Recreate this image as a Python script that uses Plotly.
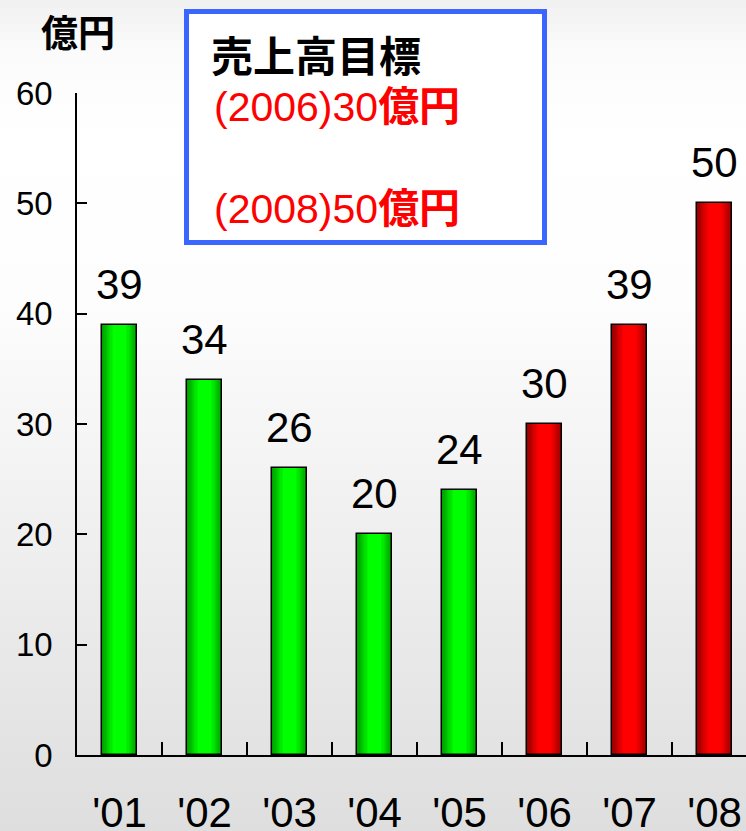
import plotly.graph_objects as go

# ---- data ----
years = ["'01", "'02", "'03", "'04", "'05", "'06", "'07", "'08"]
sales = [39, 34, 26, 20, 24, 30, 39, 50]
kind = ["actual"] * 5 + ["target"] * 3
y_ticks = [0, 10, 20, 30, 40, 50, 60]
unit_label = "億円"
target_title = "売上高目標"
target_lines = ["(2006)30<b>億円</b>", "(2008)50<b>億円</b>"]

# ---- styling ----
W, H = 746, 831
ML, MR, MT, MB = 77, 0, 93, 76
PW, PH = W - ML - MR, H - MT - MB
BAR_W = 0.41
edge = {"actual": (0, 160, 0), "target": (155, 0, 0)}
bright = {"actual": (0, 255, 0), "target": (255, 0, 0)}
LAT = "Liberation Sans, Arial, sans-serif"
CJK = "Noto Sans CJK JP, sans-serif"


def mix(a, b, t):
    return "rgb(%d,%d,%d)" % tuple(round(a[i] + (b[i] - a[i]) * t) for i in range(3))


def px_x(px):
    return (px - ML) / PW


def px_y(py):
    return (H - MB - py) / PH


fig = go.Figure()

N = 10
for k in range(N):
    t = k / (N - 1)
    f = 1 - t * 0.62
    fig.add_bar(
        x=years, y=sales, width=BAR_W * f,
        marker=dict(color=[mix(edge[c], bright[c], t) for c in kind], line=dict(width=0)),
        hoverinfo="skip", showlegend=False,
    )
fig.add_bar(
    x=years, y=sales, width=BAR_W,
    marker=dict(color="rgba(0,0,0,0)", line=dict(color="black", width=1.5)),
    showlegend=False,
)

for x, v in zip(years, sales):
    fig.add_annotation(x=x, y=v, text=str(v), yanchor="bottom", yshift=15,
                       showarrow=False, font=dict(family=LAT, size=42, color="black"))

# background gradient strips
stops = [(0, 240), (50, 251), (140, 255), (300, 253), (831, 222)]


def gray(py):
    for (p0, g0), (p1, g1) in zip(stops[:-1], stops[1:]):
        if p0 <= py <= p1:
            return g0 + (g1 - g0) * (py - p0) / (p1 - p0)
    return stops[-1][1]


shapes = []
step = 8
for py in range(0, H, step):
    g = round(gray(py + step / 2))
    shapes.append(dict(type="rect", xref="paper", yref="paper", layer="below",
                       x0=px_x(-5), x1=px_x(W + 5), y0=px_y(py + step + 0.5), y1=px_y(py),
                       fillcolor="rgb(%d,%d,%d)" % (g, g, g), line=dict(width=0)))
# target box
shapes.append(dict(type="rect", xref="paper", yref="paper", layer="above",
                   x0=px_x(186.5), x1=px_x(544.5), y0=px_y(242.5), y1=px_y(11.5),
                   fillcolor="white", line=dict(color="#3a66ff", width=5)))

fig.add_annotation(xref="paper", yref="paper", x=px_x(39), y=px_y(31), xanchor="left", yanchor="middle",
                   text="<b>%s</b>" % unit_label, showarrow=False,
                   font=dict(family=CJK, size=37, color="black"))
fig.add_annotation(xref="paper", yref="paper", x=px_x(209), y=px_y(53), xanchor="left", yanchor="middle",
                   text="<b>%s</b>" % target_title, showarrow=False,
                   font=dict(family=CJK, size=42, color="black"))
for line, cy in zip(target_lines, [107, 209]):
    fig.add_annotation(xref="paper", yref="paper", x=px_x(212), y=px_y(cy), xanchor="left", yanchor="middle",
                       text=line, showarrow=False,
                       font=dict(family="Liberation Sans, Noto Sans CJK JP, sans-serif", size=41, color="#ff0000"))

fig.update_layout(
    width=W, height=H, margin=dict(l=ML, r=MR, t=MT, b=MB, autoexpand=False),
    barmode="overlay", bargap=0,
    paper_bgcolor="white", plot_bgcolor="rgba(0,0,0,0)",
    shapes=shapes, showlegend=False,
    xaxis=dict(type="category", range=[-0.5, 7.37], showline=True, linecolor="black", linewidth=1.5,
               ticks="inside", tickson="boundaries", ticklen=13, tickcolor="black", tickwidth=1.5,
               tickfont=dict(family=LAT, size=42, color="black"), showgrid=False, automargin=False,
               ticklabelstandoff=20, fixedrange=True),
    yaxis=dict(range=[0, 60], tickvals=y_ticks, showline=True, linecolor="black", linewidth=1.5,
               ticks="inside", ticklen=10, tickcolor="black", tickwidth=1.5,
               tickfont=dict(family=LAT, size=33, color="black"), showgrid=False, zeroline=False,
               automargin=False, ticklabelstandoff=16, fixedrange=True),
)

fig.write_html("out.html", config={"displayModeBar": False},
               post_script="document.body.style.margin='0';document.body.style.overflow='hidden';")
